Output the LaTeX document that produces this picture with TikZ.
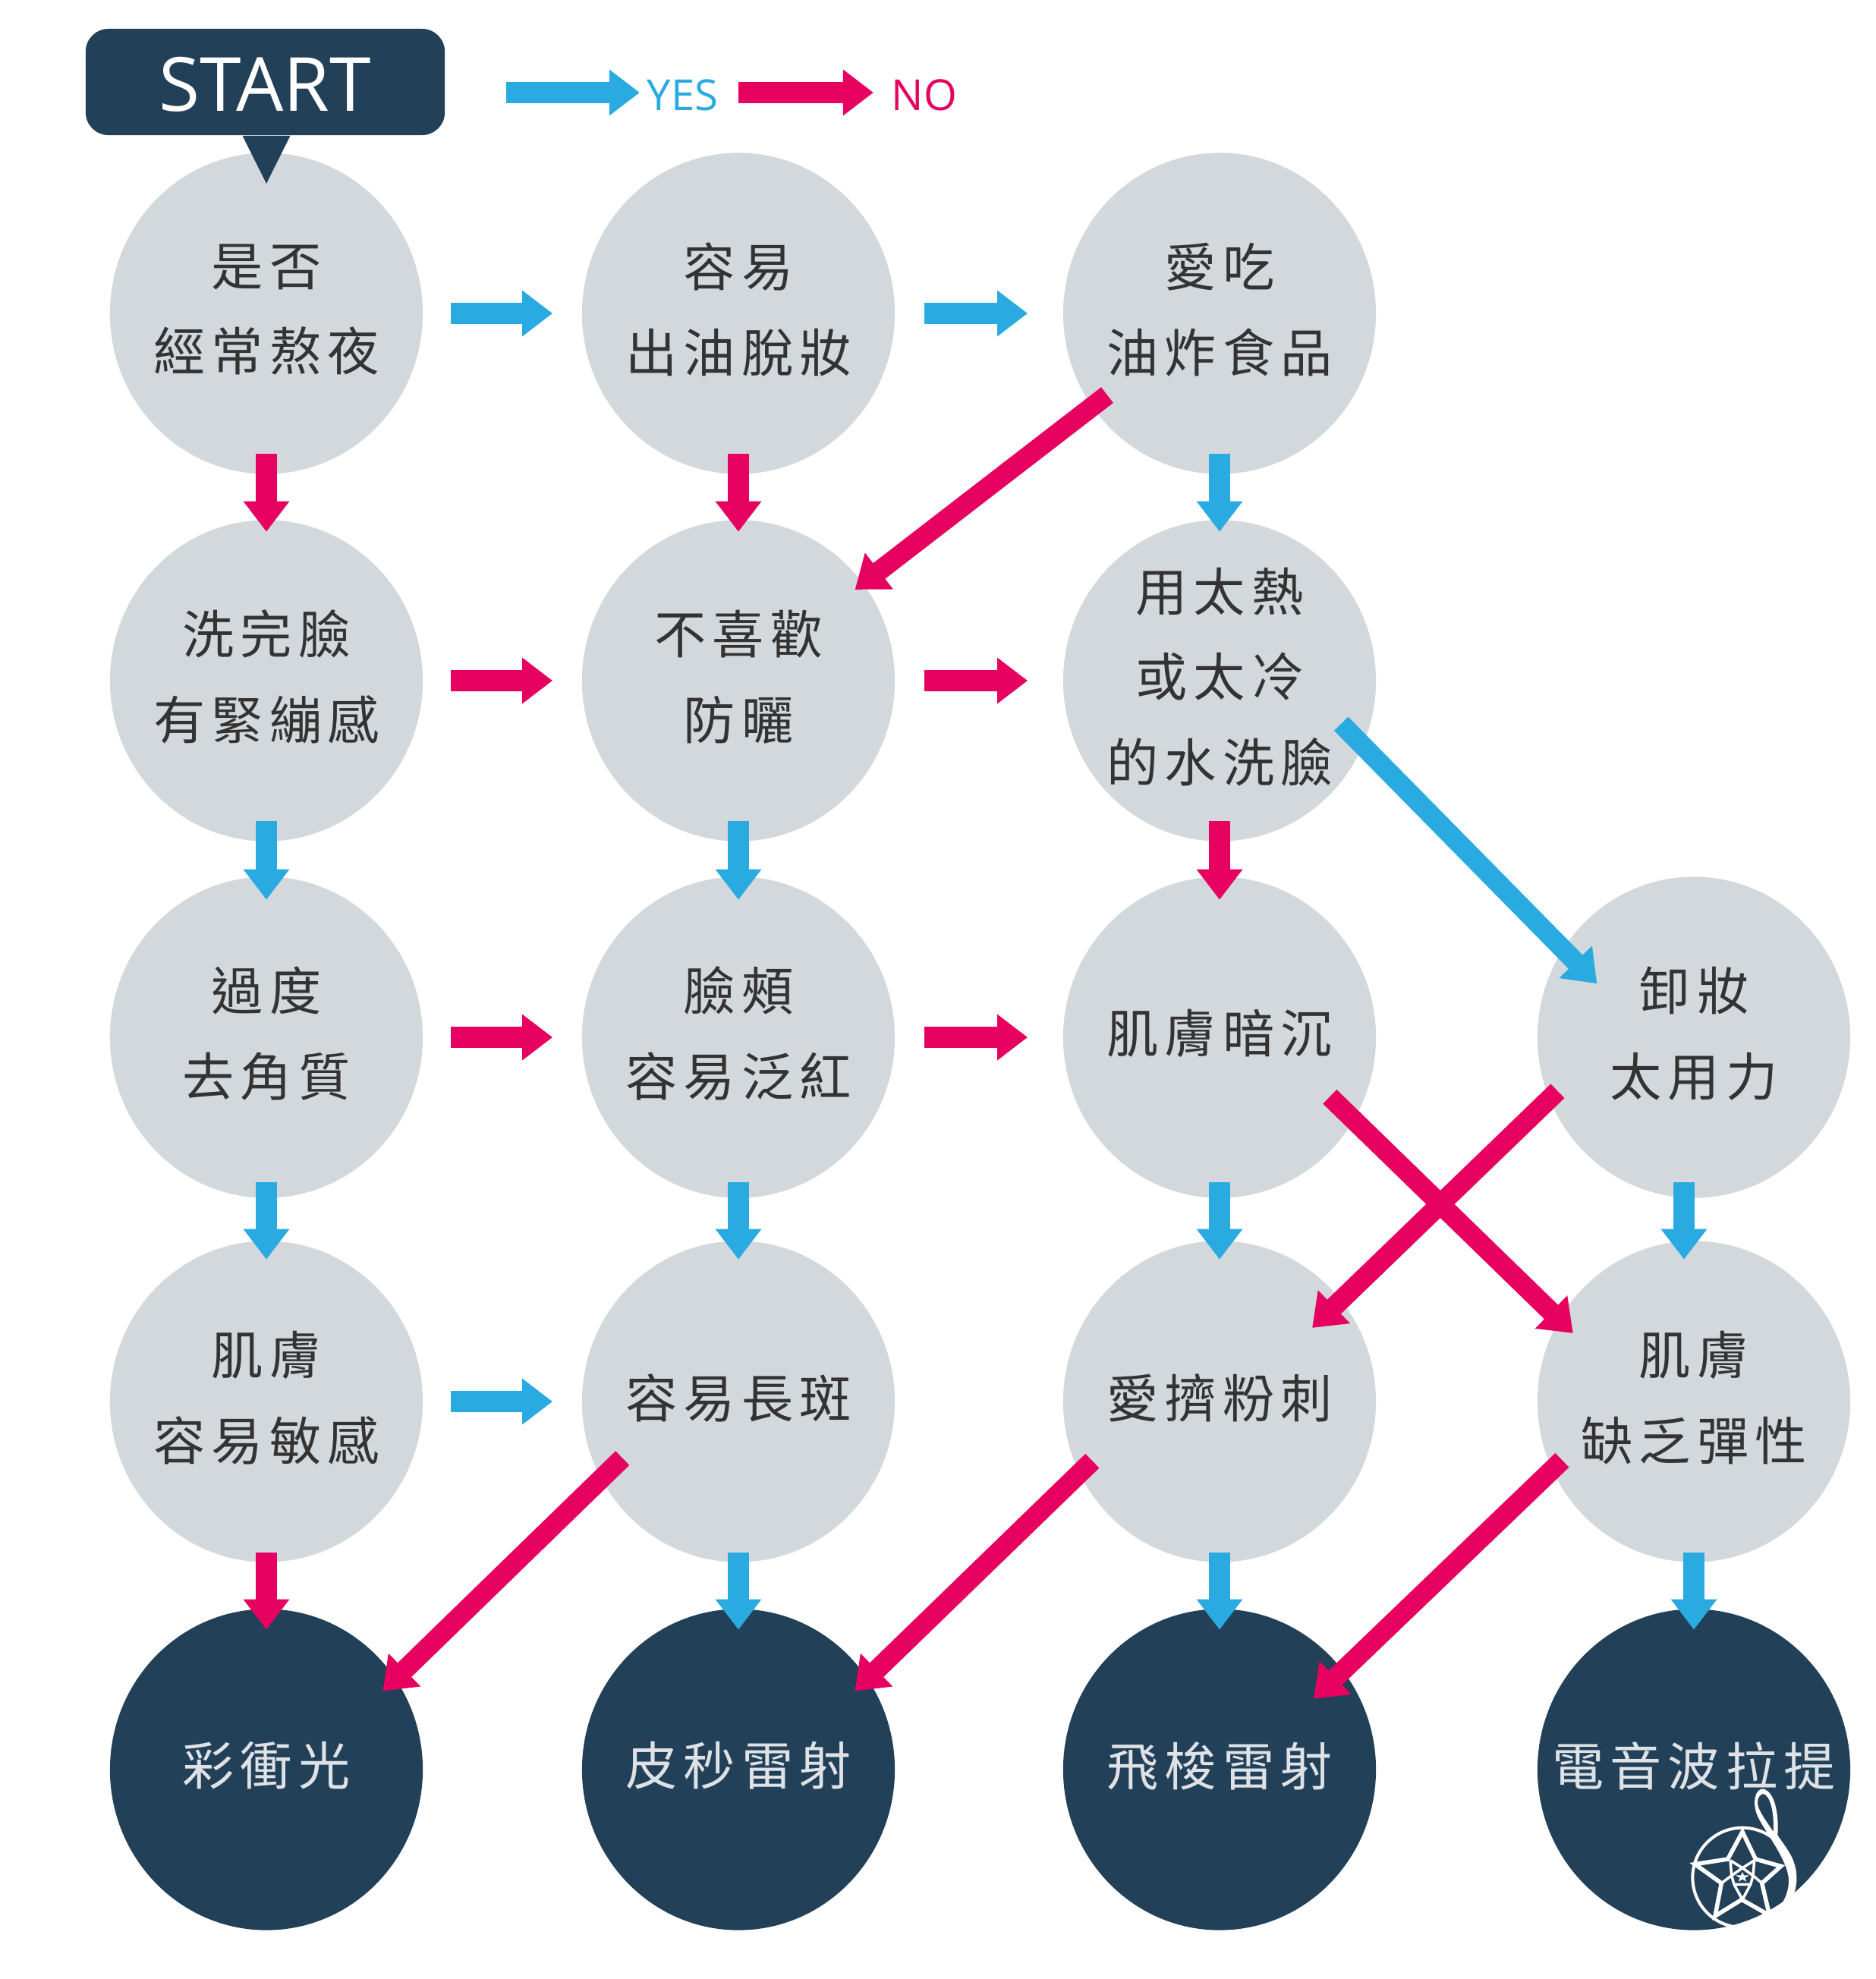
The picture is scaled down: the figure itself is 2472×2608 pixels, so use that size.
\documentclass[tikz,border=0pt]{standalone}
\usepackage{fontspec}
\setmainfont{Open Sans}
\newfontfamily\cjk[LetterSpace=12]{Noto Sans CJK TC}
\usetikzlibrary{arrows.meta,shapes.geometric}

\definecolor{qgray}{HTML}{D3D8DD}
\definecolor{navy}{HTML}{224058}
\definecolor{yesblue}{HTML}{29ABE2}
\definecolor{nopink}{HTML}{E6005F}
\definecolor{inktext}{HTML}{333333}

\tikzset{
  question/.style={ellipse, fill=qgray, text=inktext, minimum width=4.12cm,
    minimum height=4.23cm, inner sep=-1cm, align=center, text depth=4.5pt,
    font=\cjk\fontsize{19.4}{32}\selectfont},
  result/.style={question, fill=navy, text=white!85!navy},
  block/.style={line width=.28cm, -{Triangle[length=.4cm,width=.58cm]}},
  yesarrow/.style={block, yesblue},
  noarrow/.style={block, nopink},
  % gaps between the circles of a row
  colone/.style={shorten <=.36cm, shorten >=.38cm},
  coltwo/.style={shorten <=.38cm, shorten >=.46cm},
  % overlaps between the circles of a column
  rowone/.style={shorten <=-.27cm, shorten >=-.16cm},
  rowtwo/.style={shorten <=-.27cm, shorten >=-.31cm},
  rowthree/.style={shorten <=-.21cm, shorten >=-.25cm},
  rowfour/.style={shorten <=-.13cm, shorten >=-.28cm},
  % the long slanted ones are a little thinner
  slanted/.style={line width=.26cm}
}

\begin{document}
\begin{tikzpicture}[x=.01cm, y=.01cm]
  \useasboundingbox (0,0) rectangle (2472,-2608);

  % first row
  \node[question] (q11) at (351,-413)  {是否\\經常熬夜};
  \node[question] (q12) at (973,-413)  {容易\\出油脫妝};
  \node[question] (q13) at (1607,-413) {愛吃\\油炸食品};
  % second row
  \node[question] (q21) at (351,-897)  {洗完臉\\有緊繃感};
  \node[question] (q22) at (973,-897)  {不喜歡\\防曬};
  \node[question] (q23) at (1607,-897) {用太熱\\或太冷\\的水洗臉};
  % third row
  \node[question] (q31) at (351,-1367)  {過度\\去角質};
  \node[question] (q32) at (973,-1367)  {臉頰\\容易泛紅};
  \node[question] (q33) at (1607,-1367) {肌膚暗沉};
  \node[question] (q34) at (2232,-1367) {卸妝\\太用力};
  % fourth row
  \node[question] (q41) at (351,-1847)  {肌膚\\容易敏感};
  \node[question] (q42) at (973,-1847)  {容易長斑};
  \node[question] (q43) at (1607,-1847) {愛擠粉刺};
  \node[question] (q44) at (2232,-1847) {肌膚\\缺乏彈性};
  % results
  \node[result] (r1) at (351,-2332)  {彩衝光};
  \node[result] (r2) at (973,-2332)  {皮秒雷射};
  \node[result] (r3) at (1607,-2332) {飛梭雷射};
  \node[result] (r4) at (2232,-2332) {電音波拉提};

  % start box with its pointer
  \node[fill=navy, text=white, rounded corners=.3cm, minimum width=4.73cm,
        minimum height=1.4cm, inner sep=0pt, text height=22pt, text depth=0pt,
        font=\fontsize{28}{28}\selectfont]
        (start) at (349.5,-108) {START};
  \fill[navy] ([xshift=-.3cm]start.south) -- ([xshift=.33cm]start.south)
        -- (351,-242) -- cycle;

  % legend
  \coordinate (yesfrom) at (667,-122);
  \coordinate (nofrom) at (973,-122);
  \node[text=yesblue, anchor=west, inner sep=0pt, font=\fontsize{16}{16}\selectfont]
        (yes) at (852,-125) {YES};
  \node[text=nopink, anchor=west, inner sep=0pt, font=\fontsize{16}{16}\selectfont]
        (no) at (1174,-125) {NO};
  \draw[yesarrow, shorten >=.09cm] (yesfrom) -- (yesfrom -| yes.west);
  \draw[noarrow, shorten >=.23cm] (nofrom) -- (nofrom -| no.west);

  % row connectors
  \draw[yesarrow, colone] (q11) -- (q12);
  \draw[yesarrow, coltwo] (q12) -- (q13);
  \draw[noarrow, colone] (q21) -- (q22);
  \draw[noarrow, coltwo] (q22) -- (q23);
  \draw[noarrow, colone] (q31) -- (q32);
  \draw[noarrow, coltwo] (q32) -- (q33);
  \draw[yesarrow, colone] (q41) -- (q42);

  % column connectors
  \draw[noarrow, rowone] (q11) -- (q21);
  \draw[noarrow, rowone] (q12) -- (q22);
  \draw[yesarrow, rowone] (q13) -- (q23);
  \draw[yesarrow, rowtwo] (q21) -- (q31);
  \draw[yesarrow, rowtwo] (q22) -- (q32);
  \draw[noarrow, rowtwo] (q23) -- (q33);
  \draw[yesarrow, rowthree] (q31) -- (q41);
  \draw[yesarrow, rowthree] (q32) -- (q42);
  \draw[yesarrow, rowthree] (q33) -- (q43);
  \draw[yesarrow, rowthree] ([xshift=-.13cm]q34.south) -- ([xshift=-.13cm]q44.north);
  \draw[noarrow, rowfour] (q41) -- (r1);
  \draw[yesarrow, rowfour] (q42) -- (r2);
  \draw[yesarrow, rowfour] (q43) -- (r3);
  \draw[yesarrow, rowfour] (q44) -- (r4);

  % long diagonals
  \draw[noarrow, slanted] ([shift={(216:183)}]q13.center) -- ([shift={(38:195)}]q22.center);
  \draw[yesarrow, slanted] ([shift={(-19.5:170)}]q23.center) -- ([shift={(151:146)}]q34.center);
  \draw[noarrow, slanted] ([shift={(-28.3:165)}]q33.center) -- ([shift={(150.5:183)}]q44.center);
  \draw[noarrow, slanted] ([shift={(201.5:193)}]q34.center) -- ([shift={(38.5:156)}]q43.center);
  \draw[noarrow, slanted] ([shift={(206:170)}]q42.center) -- ([shift={(34:185)}]r1.center);
  \draw[noarrow, slanted] ([shift={(205:185)}]q43.center) -- ([shift={(34:185)}]r2.center);
  \draw[noarrow, slanted] ([shift={(204:190)}]q44.center) -- ([shift={(37:155)}]r3.center);

  % watermark
  \begin{scope}[shift={(2210,-2340)}, x=.01cm/3, y=-.01cm/3]
    \draw[white, line width=.04cm] (258,403) circle (197);
    \fill[white, even odd rule] (240,604) .. controls (380,614) and (478,510) .. (472,395)
        .. controls (467,320) and (425,280) .. (397,235)
        .. controls (402,170) and (392,66) .. (340,52)
        .. controls (306,52) and (296,110) .. (318,160)
        .. controls (345,220) and (436,330) .. (441,410)
        .. controls (444,500) and (370,590) .. (240,604) -- cycle
        (340,72) .. controls (365,75) and (385,140) .. (380,222)
        .. controls (360,190) and (312,130) .. (318,100)
        .. controls (320,85) and (330,72) .. (340,72) -- cycle;
    \draw[white, line width=.055cm, line join=miter]
        (258,222) -- (310,330) -- (410,358) -- (335,425) -- (365,552)
        -- (255,490) -- (150,555) -- (175,425) -- (70,350) -- (200,330) -- cycle;
    \draw[white, line width=.035cm]
        (210,335) -- (215,395) -- (175,425) (215,395) -- (258,365) -- (210,335)
        (258,365) -- (305,335) -- (300,395) -- (335,425) (300,395) -- (258,365)
        (215,395) -- (225,430) -- (258,490) -- (290,430) -- (300,395)
        (225,430) -- (290,430);
    \draw[white, line width=.02cm]
        (258,388) -- (268,412) -- (242,397) -- (274,397) -- (248,412) -- cycle;
  \end{scope}
\end{tikzpicture}
\end{document}
